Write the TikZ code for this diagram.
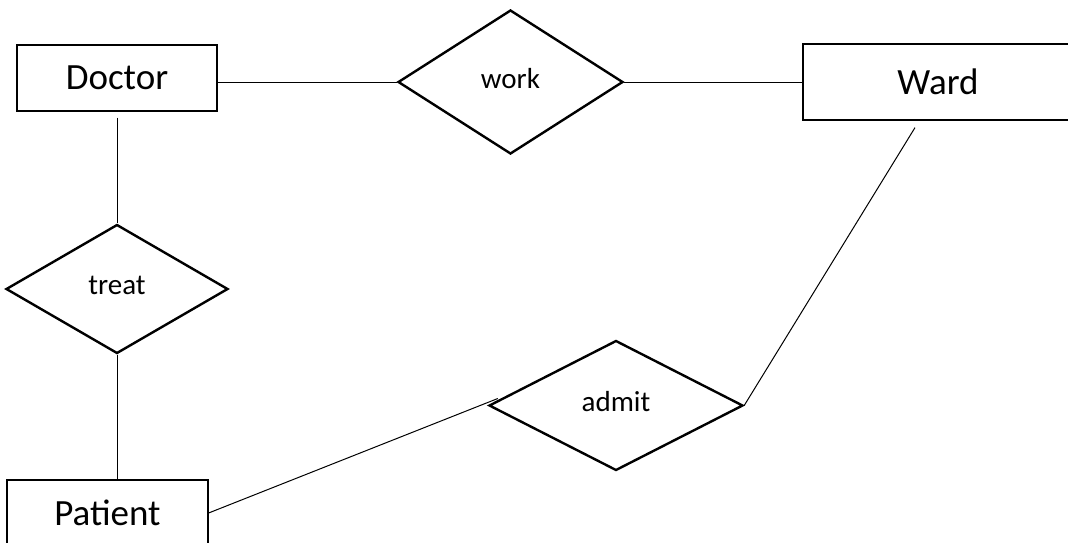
\documentclass[tikz,border=0pt]{standalone}
\usepackage{fontspec}
\setmainfont{Carlito}
\usetikzlibrary{shapes.geometric}
\tikzstyle{diagram} = [x = 1pt, y = -1pt]
\tikzstyle{entityStyle} = [draw, line width = 1.2pt, minimum height = 66pt, inner sep = 0pt, text depth = 0pt, font = \fontsize{37}{40}\selectfont]
\tikzstyle{relationStyle} = [draw, diamond, line width = 2.4pt, inner sep = 0pt, text depth = 8pt, font = \fontsize{29}{32}\selectfont]
\tikzstyle{linkLine} = [line width = 1pt]
\begin{document}
\begin{tikzpicture}[diagram]
  \useasboundingbox (0, 0) rectangle (1068, 542);

  % entities
  \node [entityStyle, minimum width = 200pt] (doctor) at (117, 78) {Doctor};
  \node [entityStyle, minimum width = 270pt, minimum height = 76pt] (ward) at (938, 82) {Ward};
  \node [entityStyle, minimum width = 201pt] (patient) at (107.5, 513) {Patient};

  % relationships
  \node [relationStyle, minimum width = 225pt, minimum height = 144pt] (work) at (510.5, 82) {work};
  \node [relationStyle, minimum width = 222pt, minimum height = 129pt] (treat) at (117, 289) {treat};
  \node [relationStyle, minimum width = 254pt, minimum height = 130pt] (admit) at (616, 405.5) {admit};

  % links
  \draw [linkLine] (doctor.east |- work.west) -- (work.west);
  \draw [linkLine] (work.east) -- (ward.west);
  \draw [linkLine] ([yshift = -6pt] doctor.south) -- (treat.north);
  \draw [linkLine] (treat.south) -- (treat.south |- patient.north);
  \draw [linkLine] (patient.east) -- ([shift = {(10pt, 7pt)}] admit.west);
  \draw [linkLine] (admit.east) -- ([shift = {(-23pt, -7pt)}] ward.south);
\end{tikzpicture}
\end{document}
